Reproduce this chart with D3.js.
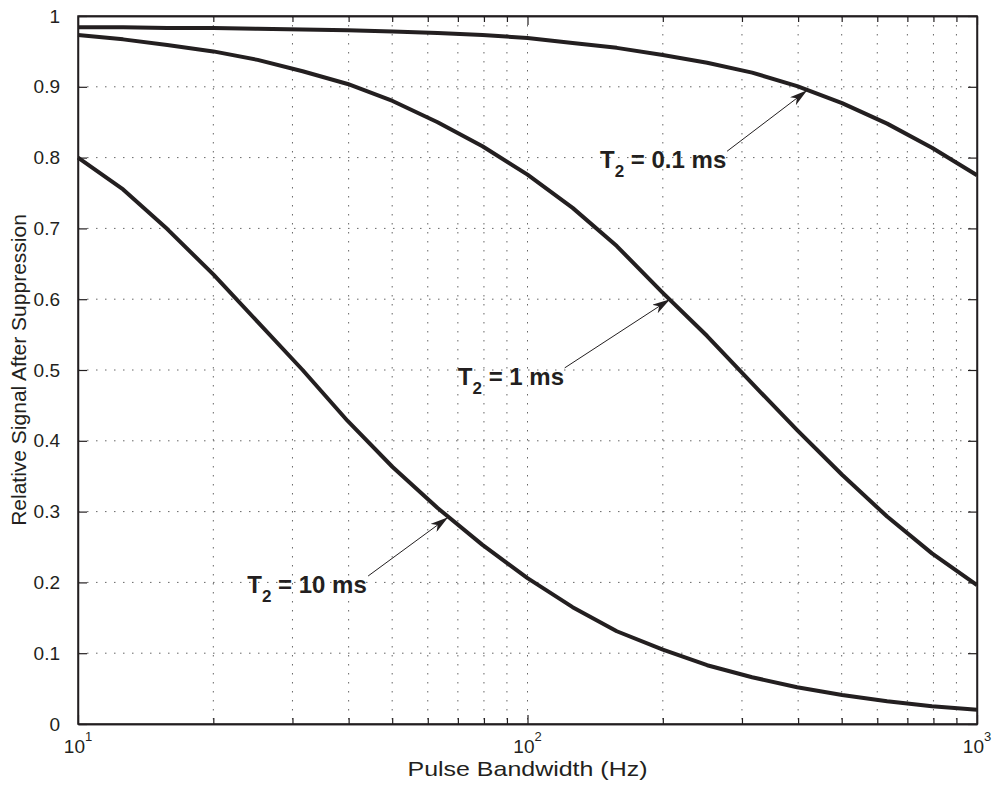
<!DOCTYPE html>
<html>
<head>
<meta charset="utf-8">
<script src="https://cdn.jsdelivr.net/npm/d3@7"></script>
<style>
  body { margin: 0; background: #fff; }
  text { font-family: Arial, "Liberation Sans", Helvetica, sans-serif; fill: #231f20; }
</style>
</head>
<body>
<div id="chart"></div>
<script>
var bandwidth = [10, 12.6, 15.8, 20, 25.1, 31.6, 39.8, 50.1, 63.1, 79.4, 100,
                 126, 158, 200, 251, 316, 398, 501, 631, 794, 1000];
var signalT2_01 = [0.984, 0.984, 0.983, 0.983, 0.982, 0.981, 0.980, 0.978, 0.976, 0.973, 0.969,
                   0.962, 0.955, 0.945, 0.934, 0.920, 0.901, 0.877, 0.848, 0.814, 0.775];
var signalT2_1 = [0.973, 0.967, 0.959, 0.950, 0.938, 0.922, 0.904, 0.880, 0.850, 0.816, 0.776,
                  0.729, 0.675, 0.609, 0.548, 0.481, 0.415, 0.352, 0.293, 0.241, 0.196];
var signalT2_10 = [0.800, 0.755, 0.699, 0.635, 0.568, 0.500, 0.428, 0.363, 0.305, 0.253, 0.206,
                   0.165, 0.131, 0.105, 0.083, 0.066, 0.052, 0.041, 0.032, 0.025, 0.020];

var yTicks = [0, 0.1, 0.2, 0.3, 0.4, 0.5, 0.6, 0.7, 0.8, 0.9, 1];
var yTickLabels = ["0", "0.1", "0.2", "0.3", "0.4", "0.5", "0.6", "0.7", "0.8", "0.9", "1"];
var xTicks = [10, 100, 1000];
var xTickExp = ["1", "2", "3"];

// annotation: text "T2 = ..." and arrow (tail -> tip), in data units
var noteLabels = [" = 0.1 ms", " = 1 ms", " = 10 ms"];
var noteTextX = [145, 70, 23.8];
var noteTextY = [0.785, 0.479, 0.185];
var noteTailX = [278, 121, 44.2];
var noteTailY = [0.809, 0.503, 0.209];
var noteTipX = [419, 207.6, 66.6];
var noteTipY = [0.895, 0.600, 0.292];

var svgWidth = 995;
var svgHeight = 792;
var chartMargin = { top: 16, right: 18, bottom: 68, left: 78 };
var chartWidth = svgWidth - chartMargin.left - chartMargin.right;
var chartHeight = svgHeight - chartMargin.top - chartMargin.bottom;

var svg = d3.select("#chart")
  .append("svg")
  .attr("width", svgWidth)
  .attr("height", svgHeight);

var defs = svg.append("defs");
defs.append("marker")
  .attr("id", "arrowhead")
  .attr("viewBox", "0 0 18 10")
  .attr("refX", 18)
  .attr("refY", 5)
  .attr("markerUnits", "userSpaceOnUse")
  .attr("markerWidth", 18)
  .attr("markerHeight", 10)
  .attr("orient", "auto")
  .append("path")
  .attr("d", "M0,0 L18,5 L0,10 L5,5 Z")
  .attr("fill", "#231f20");

var chartGroup = svg.append("g")
  .attr("transform", `translate(${chartMargin.left}, ${chartMargin.top})`);

var xScale = d3.scaleLog()
  .domain([10, 1000])
  .range([0, chartWidth]);

var yScale = d3.scaleLinear()
  .domain([0, 1])
  .range([chartHeight, 0]);

// minor positions 2..9 in each decade
var xMinor = [];
[10, 100].forEach(function(dec) {
  for (var k = 2; k <= 9; k++) xMinor.push(dec * k);
});

// grid lines (dotted)
var grid = chartGroup.append("g").attr("class", "grid");
grid.selectAll(".vgrid")
  .data(xMinor.concat(xTicks.slice(1, 2)))
  .enter()
  .append("line")
  .attr("x1", d => xScale(d))
  .attr("x2", d => xScale(d))
  .attr("y1", 0)
  .attr("y2", chartHeight)
  .attr("stroke", "#666")
  .attr("stroke-width", 1)
  .attr("stroke-dasharray", "1.5,7.5");

grid.selectAll(".hgrid")
  .data(yTicks.slice(1, -1))
  .enter()
  .append("line")
  .attr("x1", 0)
  .attr("x2", chartWidth)
  .attr("y1", d => yScale(d))
  .attr("y2", d => yScale(d))
  .attr("stroke", "#666")
  .attr("stroke-width", 1)
  .attr("stroke-dasharray", "1.5,7.5");

// axes with inward ticks on all four sides
var tickLen = 9;
var leftAxis = d3.axisLeft(yScale).tickValues(yTicks).tickSizeInner(-tickLen).tickSizeOuter(0)
  .tickFormat((d, i) => yTickLabels[i]).tickPadding(tickLen + 9);
var rightAxis = d3.axisRight(yScale).tickValues(yTicks).tickSizeInner(-tickLen).tickSizeOuter(0)
  .tickFormat("");
var bottomAxis = d3.axisBottom(xScale).tickValues(xTicks).tickSizeInner(-tickLen).tickSizeOuter(0)
  .tickFormat("");
var topAxis = d3.axisTop(xScale).tickValues(xTicks).tickSizeInner(-tickLen).tickSizeOuter(0)
  .tickFormat("");
var bottomMinor = d3.axisBottom(xScale).tickValues(xMinor).tickSizeInner(-6).tickSizeOuter(0)
  .tickFormat("");
var topMinor = d3.axisTop(xScale).tickValues(xMinor).tickSizeInner(-6).tickSizeOuter(0)
  .tickFormat("");

var yAxisG = chartGroup.append("g").call(leftAxis);
chartGroup.append("g").attr("transform", `translate(${chartWidth},0)`).call(rightAxis);
chartGroup.append("g").attr("transform", `translate(0,${chartHeight})`).call(bottomAxis);
chartGroup.append("g").call(topAxis);
chartGroup.append("g").attr("transform", `translate(0,${chartHeight})`).call(bottomMinor);
chartGroup.append("g").call(topMinor);

chartGroup.selectAll(".domain").attr("stroke", "#231f20").attr("stroke-width", 1.5);
chartGroup.selectAll(".tick line").attr("stroke", "#231f20").attr("stroke-width", 1.2);

yAxisG.selectAll("text")
  .attr("font-size", "19px")
  .attr("fill", "#231f20")
  .attr("font-family", "Arial, 'Liberation Sans', sans-serif");

// x tick labels as 10^n
xTicks.forEach(function(v, i) {
  var t = chartGroup.append("text")
    .attr("x", xScale(v))
    .attr("y", chartHeight + 29)
    .attr("text-anchor", "middle")
    .attr("font-size", "19px");
  t.append("tspan").text("10");
  t.append("tspan").attr("dy", -12).attr("font-size", "13px").text(xTickExp[i]);
});

// curves
var line = d3.line()
  .x(d => xScale(d[0]))
  .y(d => yScale(d[1]));

[signalT2_01, signalT2_1, signalT2_10].forEach(function(series) {
  chartGroup.append("path")
    .datum(bandwidth.map((b, i) => [b, series[i]]))
    .attr("d", line)
    .attr("fill", "none")
    .attr("stroke", "#231f20")
    .attr("stroke-width", 4)
    .attr("stroke-linejoin", "round");
});

// plot box on top
chartGroup.append("rect")
  .attr("width", chartWidth)
  .attr("height", chartHeight)
  .attr("fill", "none")
  .attr("stroke", "#231f20")
  .attr("stroke-width", 1.5);

// annotations
noteLabels.forEach(function(lbl, i) {
  chartGroup.append("line")
    .attr("x1", xScale(noteTailX[i]))
    .attr("y1", yScale(noteTailY[i]))
    .attr("x2", xScale(noteTipX[i]))
    .attr("y2", yScale(noteTipY[i]))
    .attr("stroke", "#231f20")
    .attr("stroke-width", 1)
    .attr("marker-end", "url(#arrowhead)");

  var t = chartGroup.append("text")
    .attr("x", xScale(noteTextX[i]))
    .attr("y", yScale(noteTextY[i]))
    .attr("font-size", "24px")
    .attr("font-weight", "bold");
  t.append("tspan").text("T");
  t.append("tspan").attr("dy", 9).attr("font-size", "17px").text("2");
  t.append("tspan").attr("dy", -9).text(lbl);
});

// axis titles
svg.append("text")
  .attr("x", chartMargin.left + chartWidth / 2)
  .attr("y", 776)
  .attr("text-anchor", "middle")
  .attr("font-size", "21px")
  .attr("textLength", 240)
  .attr("lengthAdjust", "spacingAndGlyphs")
  .text("Pulse Bandwidth (Hz)");

svg.append("text")
  .attr("transform", `translate(26, ${chartMargin.top + chartHeight / 2}) rotate(-90)`)
  .attr("text-anchor", "middle")
  .attr("font-size", "21px")
  .text("Relative Signal After Suppression");
</script>
</body>
</html>
